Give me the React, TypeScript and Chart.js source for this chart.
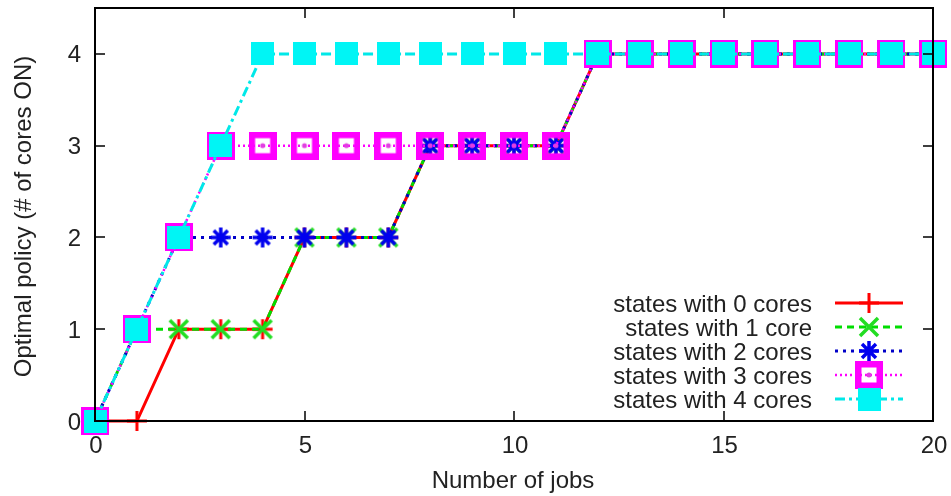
import React, { useEffect, useRef } from "react";
import { Chart, registerables } from "chart.js";

Chart.register(...registerables);

// Number of jobs in the system (x axis)
const jobs = [0, 1, 2, 3, 4, 5, 6, 7, 8, 9, 10, 11, 12, 13, 14, 15, 16, 17, 18, 19, 20];

// Optimal number of cores switched ON, per starting state
const cores0 = [0, 0, 1, 1, 1, 2, 2, 2, 3, 3, 3, 3, 4, 4, 4, 4, 4, 4, 4, 4, 4];
const cores1 = [0, 1, 1, 1, 1, 2, 2, 2, 3, 3, 3, 3, 4, 4, 4, 4, 4, 4, 4, 4, 4];
const cores2 = [0, 1, 2, 2, 2, 2, 2, 2, 3, 3, 3, 3, 4, 4, 4, 4, 4, 4, 4, 4, 4];
const cores3 = [0, 1, 2, 3, 3, 3, 3, 3, 3, 3, 3, 3, 4, 4, 4, 4, 4, 4, 4, 4, 4];
const cores4 = [0, 1, 2, 3, 4, 4, 4, 4, 4, 4, 4, 4, 4, 4, 4, 4, 4, 4, 4, 4, 4];

const seriesNames = [
  "states with 0 cores",
  "states with 1 core",
  "states with 2 cores",
  "states with 3 cores",
  "states with 4 cores",
];

const xTicks = [0, 5, 10, 15, 20];
const yTicks = [0, 1, 2, 3, 4];
const xTitle = "Number of jobs";
const yTitle = "Optimal policy (# of cores ON)";

const lineColors = ["#ff0000", "#00dd00", "#0000c8", "#ff00ff", "#00e8e8"];
const lineDashes: number[][] = [[], [7, 5], [3, 5], [2, 3], [10, 4, 3, 4]];
const lineWidths = [3, 3, 3, 2.5, 3];

const FONT = '24px "Liberation Sans", Arial, sans-serif';
const TEXT = "#222222";

function markerCanvas(size: number, draw: (g: CanvasRenderingContext2D, s: number) => void) {
  const c = document.createElement("canvas");
  c.width = size;
  c.height = size;
  const g = c.getContext("2d")!;
  draw(g, size);
  return c;
}

function buildMarkers() {
  const plus = markerCanvas(22, (g, s) => {
    g.strokeStyle = "#ff0000";
    g.lineWidth = 3;
    g.beginPath();
    g.moveTo(s / 2, 1);
    g.lineTo(s / 2, s - 1);
    g.moveTo(1, s / 2);
    g.lineTo(s - 1, s / 2);
    g.stroke();
  });
  const cross = markerCanvas(24, (g, s) => {
    g.strokeStyle = "#22dd22";
    g.lineWidth = 3.5;
    g.beginPath();
    g.moveTo(3, 3);
    g.lineTo(s - 3, s - 3);
    g.moveTo(s - 3, 3);
    g.lineTo(3, s - 3);
    g.stroke();
  });
  const star = markerCanvas(24, (g, s) => {
    g.strokeStyle = "#0000ee";
    g.lineWidth = 3.5;
    g.beginPath();
    g.moveTo(s / 2, 2);
    g.lineTo(s / 2, s - 2);
    g.moveTo(2, s / 2);
    g.lineTo(s - 2, s / 2);
    g.moveTo(5, 5);
    g.lineTo(s - 5, s - 5);
    g.moveTo(s - 5, 5);
    g.lineTo(5, s - 5);
    g.stroke();
  });
  const box = markerCanvas(28, (g, s) => {
    g.strokeStyle = "#ff00ff";
    g.lineWidth = 6.5;
    g.strokeRect(3.25, 3.25, s - 6.5, s - 6.5);
    g.fillStyle = "#e040e0";
    g.beginPath();
    g.arc(s / 2, s / 2, 2.5, 0, Math.PI * 2);
    g.fill();
  });
  const filled = markerCanvas(23, (g, s) => {
    g.fillStyle = "#00f5f5";
    g.fillRect(0, 0, s, s);
  });
  return [plus, cross, star, box, filled];
}

export default function App() {
  const canvasRef = useRef<HTMLCanvasElement | null>(null);

  useEffect(() => {
    const canvas = canvasRef.current;
    if (!canvas) return;
    const markers = buildMarkers();
    const series = [cores0, cores1, cores2, cores3, cores4];

    const datasets = series.map((vals, i) => ({
      label: seriesNames[i],
      data: jobs.map((x, k) => ({ x, y: vals[k] })),
      borderColor: lineColors[i],
      borderWidth: lineWidths[i],
      borderDash: lineDashes[i],
      backgroundColor: lineColors[i],
      pointStyle: markers[i] as any,
      pointRadius: 5,
      pointHoverRadius: 5,
      tension: 0,
      fill: false,
      clip: false as any,
      // later series are painted on top
      order: series.length - 1 - i,
    }));

    const frame = {
      id: "gnuplotFrame",
      afterDraw(chart: any) {
        const ctx: CanvasRenderingContext2D = chart.ctx;
        const { left, right, top, bottom } = chart.chartArea;
        const xs = chart.scales.x;
        const ys = chart.scales.y;
        ctx.save();

        // border
        ctx.strokeStyle = "#000";
        ctx.lineWidth = 2;
        ctx.setLineDash([]);
        ctx.strokeRect(left, top, right - left, bottom - top);

        // inward ticks on all four sides
        const tl = 10;
        ctx.lineWidth = 1.5;
        ctx.beginPath();
        xTicks.forEach((v) => {
          const px = Math.round(xs.getPixelForValue(v));
          ctx.moveTo(px, bottom);
          ctx.lineTo(px, bottom - tl);
          ctx.moveTo(px, top);
          ctx.lineTo(px, top + tl);
        });
        yTicks.forEach((v) => {
          const py = Math.round(ys.getPixelForValue(v));
          ctx.moveTo(left, py);
          ctx.lineTo(left + tl, py);
          ctx.moveTo(right, py);
          ctx.lineTo(right - tl, py);
        });
        ctx.stroke();

        ctx.font = FONT;
        ctx.fillStyle = TEXT;
        ctx.textBaseline = "alphabetic";
        const text = (s: string, x: number, y: number, align: CanvasTextAlign) => {
          ctx.textAlign = align;
          ctx.fillText(s, x, y);
        };

        xTicks.forEach((v) => text(String(v), xs.getPixelForValue(v) + 1, bottom + 32, "center"));
        yTicks.forEach((v) => text(String(v), left - 14, ys.getPixelForValue(v) + 8.5, "right"));

        text(xTitle, (left + right) / 2 - 1, bottom + 67, "center");

        ctx.save();
        ctx.translate(31, (top + bottom) / 2 + 2);
        ctx.rotate(-Math.PI / 2);
        ctx.textAlign = "center";
        ctx.fillText(yTitle, 0, 0);
        ctx.restore();

        // key
        const textRight = 812;
        const sampleL = 835;
        const sampleR = 903;
        const rowTop = 303;
        const rowStep = 24;
        seriesNames.forEach((name, i) => {
          const cy = rowTop + i * rowStep;
          ctx.fillStyle = TEXT;
          text(name, textRight, cy + 8.5, "right");
          ctx.strokeStyle = lineColors[i];
          ctx.lineWidth = lineWidths[i];
          ctx.setLineDash(lineDashes[i]);
          ctx.beginPath();
          ctx.moveTo(sampleL, cy);
          ctx.lineTo(sampleR, cy);
          ctx.stroke();
          ctx.setLineDash([]);
          const m = markers[i];
          const mx = (sampleL + sampleR) / 2;
          ctx.drawImage(m, mx - m.width / 2, cy - m.height / 2);
        });

        ctx.restore();
      },
    };

    const chart = new Chart(canvas, {
      type: "line",
      data: { datasets: datasets as any },
      options: {
        animation: false,
        responsive: false,
        layout: { padding: { left: 95, right: 18, top: 7, bottom: 75 } },
        scales: {
          x: { type: "linear", min: 0, max: 20, display: false },
          y: { type: "linear", min: 0, max: 4.5, display: false },
        },
        plugins: {
          legend: { display: false },
          tooltip: { enabled: false },
        },
        events: [],
      },
      plugins: [frame],
    });

    return () => chart.destroy();
  }, []);

  return (
    <div style={{ position: "absolute", left: 0, top: 0, width: 951, height: 496, background: "#fff" }}>
      <canvas ref={canvasRef} width={951} height={496} style={{ display: "block" }} />
    </div>
  );
}
